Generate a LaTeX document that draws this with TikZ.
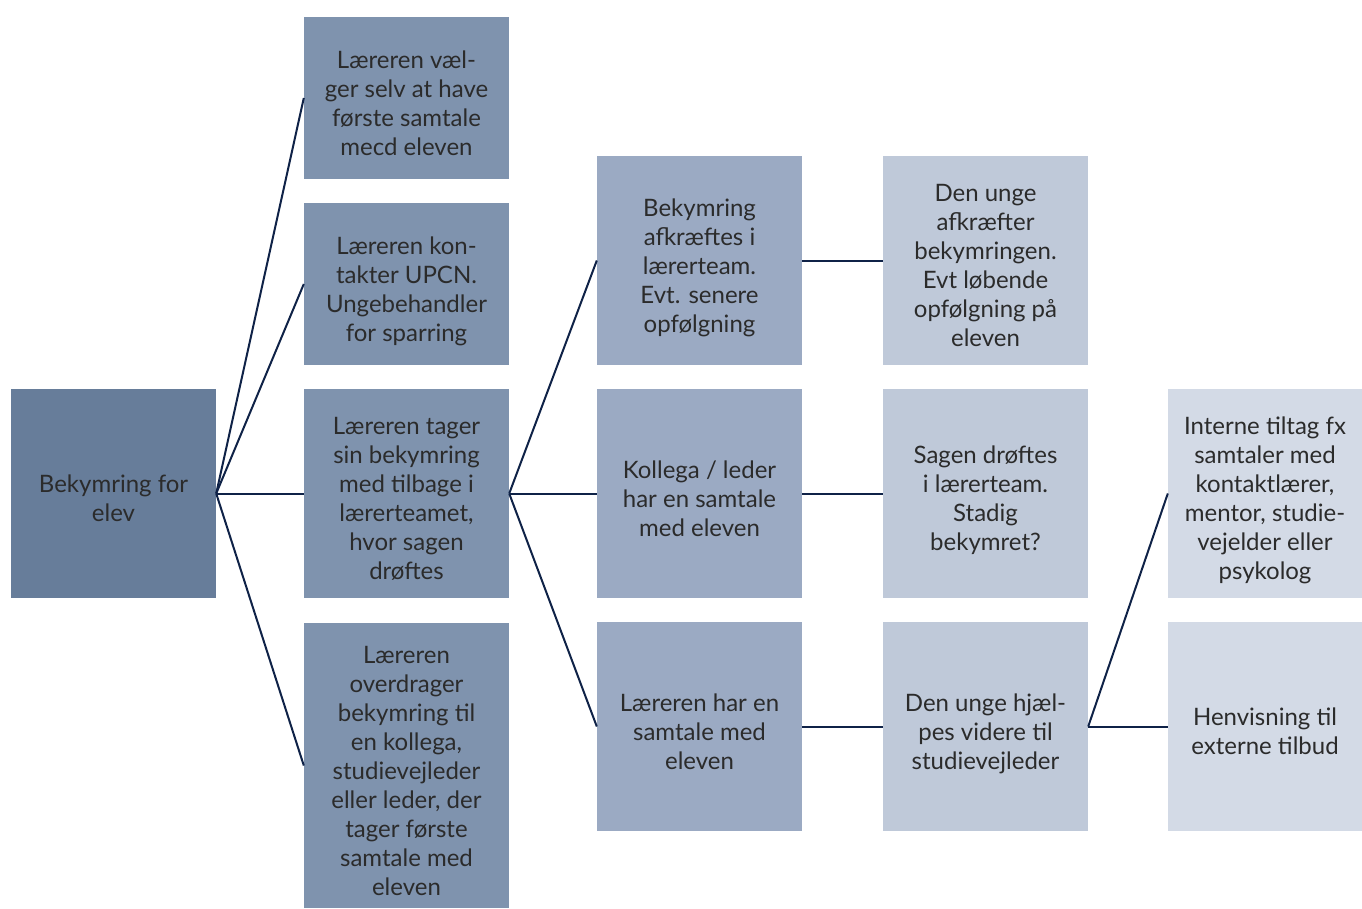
\documentclass[tikz,border=0pt]{standalone}
\usepackage{fontspec}
\setmainfont{Lato}
\definecolor{rootfill}{HTML}{677D9A}
\definecolor{levelone}{HTML}{7F93AE}
\definecolor{leveltwo}{HTML}{9BAAC3}
\definecolor{levelthree}{HTML}{BFC9D9}
\definecolor{levelfour}{HTML}{D3DAE6}
\definecolor{linenavy}{HTML}{0F2247}
\definecolor{textgray}{HTML}{2B2B2B}
\newcommand{\boxtext}[1]{\raisebox{-8pt}[\height][\depth]{\begin{tabular}{@{}c@{}}#1\end{tabular}}}
\begin{document}
\begin{tikzpicture}
[x=1pt,y=-1pt,
  boxdecorate/.style={shape=rectangle,minimum width=205pt,inner sep=0pt,
    text=textgray,font=\fontsize{24}{29}\selectfont},
  linedecorate/.style={draw=linenavy,line width=2pt}]
\useasboundingbox (0,0) rectangle (1362,908);
%% nodes or boxes
\node (root) at (113.5,493.5) [boxdecorate,fill=rootfill,minimum height=209pt]
  {\boxtext{Bekymring for\\elev}};
\foreach \nodename/\y/\h/\txt in {
  a1/98/162/{Læreren væl-\\ger selv at have\\første samtale\\mecd eleven},
  a2/284/162/{Læreren kon-\\takter UPCN.\\Ungebehandler\\for sparring},
  a3/493.5/209/{Læreren tager\\sin bekymring\\med tilbage i\\lærerteamet,\\hvor sagen\\drøftes},
  a4/765.5/285/{Læreren\\overdrager\\bekymring til\\en kollega,\\studievejleder\\eller leder, der\\tager første\\samtale med\\eleven}} {
  \node (\nodename) at (406.5,\y) [boxdecorate,fill=levelone,minimum height=\h pt] {\boxtext{\txt}};
}
\foreach \nodename/\y/\txt in {
  b1/260.5/{Bekymring\\afkræftes i\\lærerteam.\\Evt. senere\\opfølgning},
  b2/493.5/{Kollega / leder\\har en samtale\\med eleven},
  b3/726.5/{Læreren har en\\samtale med\\eleven}} {
  \node (\nodename) at (699.5,\y) [boxdecorate,fill=leveltwo,minimum height=209pt] {\boxtext{\txt}};
}
\foreach \nodename/\y/\txt in {
  c1/260.5/{Den unge\\afkræfter\\bekymringen.\\Evt løbende\\opfølgning på\\eleven},
  c2/493.5/{Sagen drøftes\\i lærerteam.\\Stadig\\bekymret?},
  c3/726.5/{Den unge hjæl-\\pes videre til\\studievejleder}} {
  \node (\nodename) at (985.5,\y) [boxdecorate,fill=levelthree,minimum height=209pt] {\boxtext{\txt}};
}
\foreach \nodename/\y/\txt in {
  d1/493.5/{Interne tiltag fx\\samtaler med\\kontaktlærer,\\mentor, studie-\\vejelder eller\\psykolog},
  d2/726.5/{Henvisning til\\externe tilbud}} {
  \node (\nodename) at (1265,\y) [boxdecorate,fill=levelfour,minimum width=194pt,minimum height=209pt] {\boxtext{\txt}};
}
%% edges or lines
\path
\foreach \endnode in {a1, a2, a3, a4} {
  (root.east) edge[linedecorate] (\endnode.west)
};
\path
\foreach \endnode in {b1, b2, b3} {
  (a3.east) edge[linedecorate] (\endnode.west)
};
\path
\foreach \startnode/\endnode in {b1/c1, b2/c2, b3/c3} {
  (\startnode.east) edge[linedecorate] (\endnode.west)
};
\path
(c3.east) edge[linedecorate] (d1.west)
(c3.east) edge[linedecorate] (d2.west);
\end{tikzpicture}
\end{document}
